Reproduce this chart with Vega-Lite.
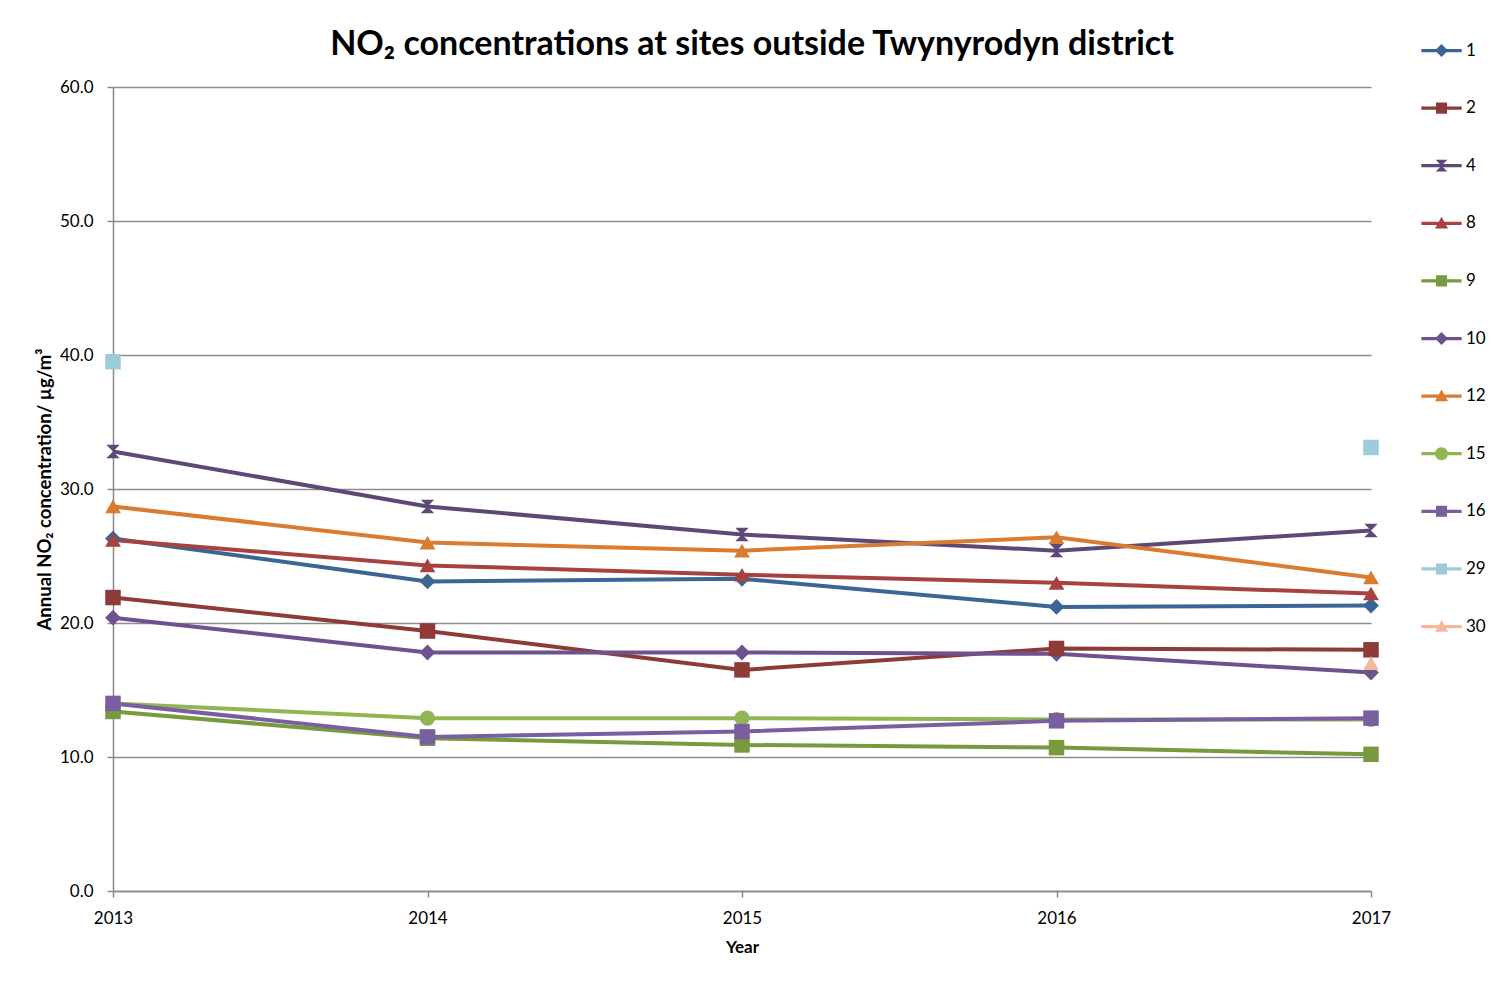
{
  "$schema": "https://vega.github.io/schema/vega-lite/v6.json",
  "width": 1258,
  "height": 804,
  "autosize": {"type": "none"},
  "padding": {"left": 113, "top": 87, "right": 139, "bottom": 94},
  "background": "white",
  "title": {
    "text": "NO₂ concentrations at sites outside Twynyrodyn district",
    "font": "Lato",
    "fontSize": 34,
    "fontWeight": "bold",
    "color": "#000000",
    "anchor": "middle",
    "offset": -20,
    "dx": 10
  },
  "config": {
    "view": {"stroke": null},
    "axis": {
      "labelFont": "Lato",
      "labelFontSize": 17,
      "labelColor": "#000000",
      "titleFont": "Lato",
      "titleFontSize": 17,
      "titleFontWeight": "bold",
      "titleColor": "#000000",
      "domainColor": "#888888",
      "domainWidth": 1.5,
      "tickColor": "#888888",
      "tickWidth": 1.5,
      "tickSize": 6,
      "gridColor": "#8c8c8c",
      "gridWidth": 1.3,
      "labelFlush": false
    },
    "legend": {
      "labelFont": "Lato",
      "labelFontSize": 17,
      "labelColor": "#000000"
    }
  },
  "data": {
    "values": [
      {"site": "1", "year": 2013, "value": 26.3},
      {"site": "1", "year": 2014, "value": 23.1},
      {"site": "1", "year": 2015, "value": 23.3},
      {"site": "1", "year": 2016, "value": 21.2},
      {"site": "1", "year": 2017, "value": 21.3},
      {"site": "2", "year": 2013, "value": 21.9},
      {"site": "2", "year": 2014, "value": 19.4},
      {"site": "2", "year": 2015, "value": 16.5},
      {"site": "2", "year": 2016, "value": 18.1},
      {"site": "2", "year": 2017, "value": 18.0},
      {"site": "4", "year": 2013, "value": 32.8},
      {"site": "4", "year": 2014, "value": 28.7},
      {"site": "4", "year": 2015, "value": 26.6},
      {"site": "4", "year": 2016, "value": 25.4},
      {"site": "4", "year": 2017, "value": 26.9},
      {"site": "8", "year": 2013, "value": 26.2},
      {"site": "8", "year": 2014, "value": 24.3},
      {"site": "8", "year": 2015, "value": 23.6},
      {"site": "8", "year": 2016, "value": 23.0},
      {"site": "8", "year": 2017, "value": 22.2},
      {"site": "9", "year": 2013, "value": 13.4},
      {"site": "9", "year": 2014, "value": 11.4},
      {"site": "9", "year": 2015, "value": 10.9},
      {"site": "9", "year": 2016, "value": 10.7},
      {"site": "9", "year": 2017, "value": 10.2},
      {"site": "10", "year": 2013, "value": 20.4},
      {"site": "10", "year": 2014, "value": 17.8},
      {"site": "10", "year": 2015, "value": 17.8},
      {"site": "10", "year": 2016, "value": 17.7},
      {"site": "10", "year": 2017, "value": 16.3},
      {"site": "12", "year": 2013, "value": 28.7},
      {"site": "12", "year": 2014, "value": 26.0},
      {"site": "12", "year": 2015, "value": 25.4},
      {"site": "12", "year": 2016, "value": 26.4},
      {"site": "12", "year": 2017, "value": 23.4},
      {"site": "15", "year": 2013, "value": 14.0},
      {"site": "15", "year": 2014, "value": 12.9},
      {"site": "15", "year": 2015, "value": 12.9},
      {"site": "15", "year": 2016, "value": 12.8},
      {"site": "15", "year": 2017, "value": 12.8},
      {"site": "16", "year": 2013, "value": 14.0},
      {"site": "16", "year": 2014, "value": 11.5},
      {"site": "16", "year": 2015, "value": 11.9},
      {"site": "16", "year": 2016, "value": 12.7},
      {"site": "16", "year": 2017, "value": 12.9},
      {"site": "29", "year": 2013, "value": 39.5},
      {"site": "29", "year": 2017, "value": 33.1},
      {"site": "30", "year": 2017, "value": 17.0}
    ]
  },
  "encoding": {
    "x": {
      "field": "year",
      "type": "quantitative",
      "scale": {"domain": [2013, 2017], "nice": false, "zero": false},
      "axis": {
        "values": [2013, 2014, 2015, 2016, 2017],
        "format": "d",
        "grid": false,
        "labelPadding": 13,
        "title": "Year",
        "titlePadding": 13
      }
    },
    "y": {
      "field": "value",
      "type": "quantitative",
      "scale": {"domain": [0, 60], "nice": false},
      "axis": {
        "values": [0, 10, 20, 30, 40, 50, 60],
        "format": ".1f",
        "labelPadding": 14,
        "title": "Annual NO₂ concentration/ µg/m³",
        "titleFontSize": 18.5,
        "titlePadding": 5
      }
    },
    "color": {
      "field": "site",
      "type": "nominal",
      "scale": {
        "domain": ["1", "2", "4", "8", "9", "10", "12", "15", "16", "29", "30"],
        "range": ["#3A6594", "#8E3A38", "#5E4878", "#A84240", "#789A3F", "#6D528F", "#D97B30", "#91B552", "#7A5FA0", "#9DCBDB", "#F5B899"]
      },
      "legend": {
        "title": null,
        "orient": "none",
        "legendX": 1320,
        "legendY": -45,
        "symbolSize": 169,
        "symbolStrokeWidth": 0,
        "symbolOpacity": 1,
        "labelOffset": 16,
        "rowPadding": 39.6,
        "symbolLimit": 20,
        "symbolType": {
          "expr": "{'1':'M-3.1,-0.25L3.1,-0.25L3.1,0.25L-3.1,0.25ZM0,-1L1,0L0,1L-1,0Z','2':'M-3.1,-0.25L3.1,-0.25L3.1,0.25L-3.1,0.25ZM-0.85,-0.85L0.85,-0.85L0.85,0.85L-0.85,0.85Z','4':'M-3.1,-0.25L3.1,-0.25L3.1,0.25L-3.1,0.25ZM-0.9,-0.9L0.9,-0.9L0,0ZM0,0L0.9,0.9L-0.9,0.9Z','8':'M-3.1,-0.25L3.1,-0.25L3.1,0.25L-3.1,0.25ZM0,-1L1,0.8L-1,0.8Z','9':'M-3.1,-0.25L3.1,-0.25L3.1,0.25L-3.1,0.25ZM-0.85,-0.85L0.85,-0.85L0.85,0.85L-0.85,0.85Z','10':'M-3.1,-0.25L3.1,-0.25L3.1,0.25L-3.1,0.25ZM0,-1L1,0L0,1L-1,0Z','12':'M-3.1,-0.25L3.1,-0.25L3.1,0.25L-3.1,0.25ZM0,-1L1,0.8L-1,0.8Z','15':'M-3.1,-0.25L3.1,-0.25L3.1,0.25L-3.1,0.25ZM-1,0A1,1,0,1,1,1,0A1,1,0,1,1,-1,0Z','16':'M-3.1,-0.25L3.1,-0.25L3.1,0.25L-3.1,0.25ZM-0.85,-0.85L0.85,-0.85L0.85,0.85L-0.85,0.85Z','29':'M-3.1,-0.25L3.1,-0.25L3.1,0.25L-3.1,0.25ZM-0.85,-0.85L0.85,-0.85L0.85,0.85L-0.85,0.85Z','30':'M-3.1,-0.25L3.1,-0.25L3.1,0.25L-3.1,0.25ZM0,-1L1,0.8L-1,0.8Z'}[datum.value]"
        }
      }
    }
  },
  "layer": [
    {
      "transform": [{"filter": "datum.site != '29' && datum.site != '30'"}],
      "mark": {"type": "line", "strokeWidth": 4},
      "encoding": {
        "detail": {"field": "site", "type": "nominal"}
      }
    },
    {
      "transform": [{"filter": "datum.site == '15'"}],
      "mark": {"type": "point", "filled": true, "size": 230, "opacity": 1, "shape": "circle"},
      "encoding": {}
    },
    {
      "transform": [{"filter": "indexof(['1','10'], datum.site) >= 0"}],
      "mark": {"type": "point", "filled": true, "size": 250, "opacity": 1, "shape": "diamond"},
      "encoding": {}
    },
    {
      "transform": [{"filter": "indexof(['2','9','16','29'], datum.site) >= 0"}],
      "mark": {"type": "point", "filled": true, "size": 240, "opacity": 1, "shape": "square"},
      "encoding": {}
    },
    {
      "transform": [{"filter": "datum.site == '4'"}],
      "mark": {"type": "point", "filled": true, "size": 180, "opacity": 1, "shape": "M-1,-1L1,-1L0,0ZM0,0L1,1L-1,1Z"},
      "encoding": {}
    },
    {
      "transform": [{"filter": "indexof(['8','12','30'], datum.site) >= 0"}],
      "mark": {"type": "point", "filled": true, "size": 250, "opacity": 1, "shape": "triangle-up"},
      "encoding": {}
    }
  ]
}
